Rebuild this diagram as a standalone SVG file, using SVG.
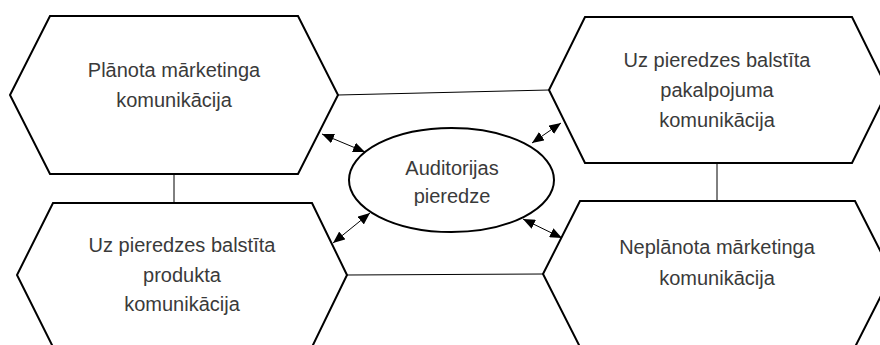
<svg xmlns="http://www.w3.org/2000/svg" width="880" height="345" viewBox="0 0 880 345">
<style>
.hex{fill:#fff;stroke:#000;stroke-width:2;stroke-linejoin:miter}
.lbl{font-family:"Liberation Sans",Arial,sans-serif;font-size:20px;fill:#3a3a3a;text-anchor:middle}
.con{stroke:#000;stroke-width:1;fill:none}
.arr{stroke:#000;stroke-width:1;fill:none;marker-start:url(#ah);marker-end:url(#ah)}
</style>
<defs>
<marker id="ah" viewBox="0 0 12 10" refX="12" refY="5" markerWidth="12" markerHeight="10" markerUnits="userSpaceOnUse" orient="auto-start-reverse">
<path d="M0,0 L12,5 L0,10 z" fill="#000"/>
</marker>
<clipPath id="clipE"><rect x="340" y="120" width="230" height="86"/></clipPath>
</defs>
<rect width="880" height="345" fill="#fff"/>
<g id="connectors">
<line class="con" x1="174" y1="174" x2="174" y2="203"/>
<line class="con" x1="338" y1="95" x2="549" y2="90"/>
<line class="con" x1="717" y1="163" x2="717" y2="201"/>
<line class="con" x1="347" y1="275" x2="543" y2="274"/>
<line class="arr" x1="322" y1="134" x2="365" y2="152"/>
<line class="arr" x1="532" y1="143" x2="561" y2="123"/>
<line class="arr" x1="333" y1="243" x2="370" y2="213"/>
<line class="arr" x1="523" y1="219" x2="562" y2="238"/>
</g>
<g id="node-planota">
<polygon class="hex" points="50,16 298,16 338,95 298,174 50,174 10,95"/>
<text class="lbl" x="174" y="77">Plānota mārketinga</text>
<text class="lbl" x="174" y="107">komunikācija</text>
</g>
<g id="node-produkta">
<polygon class="hex" points="53,203 312,203 347,275 312,347 53,347 17,275"/>
<text class="lbl" x="182" y="252">Uz pieredzes balstīta</text>
<text class="lbl" x="182" y="282">produkta</text>
<text class="lbl" x="182" y="311">komunikācija</text>
</g>
<g id="node-pakalpojuma">
<polygon class="hex" points="585,17 852,17 888,90 852,163 585,163 549,90"/>
<text class="lbl" x="717" y="67">Uz pieredzes balstīta</text>
<text class="lbl" x="717" y="97">pakalpojuma</text>
<text class="lbl" x="717" y="127">komunikācija</text>
</g>
<g id="node-neplanota">
<polygon class="hex" points="580,201 855,201 892,274 855,347 580,347 543,274"/>
<text class="lbl" x="717" y="254">Neplānota mārketinga</text>
<text class="lbl" x="717" y="285">komunikācija</text>
</g>
<g id="node-auditorijas">
<ellipse cx="451.5" cy="180" rx="102.5" ry="52" fill="#fff" stroke="#000" stroke-width="2"/>
<g clip-path="url(#clipE)">
<text class="lbl" x="452" y="175">Auditorijas</text>
<text class="lbl" x="452" y="203">pieredze</text>
</g>
</g>
</svg>
